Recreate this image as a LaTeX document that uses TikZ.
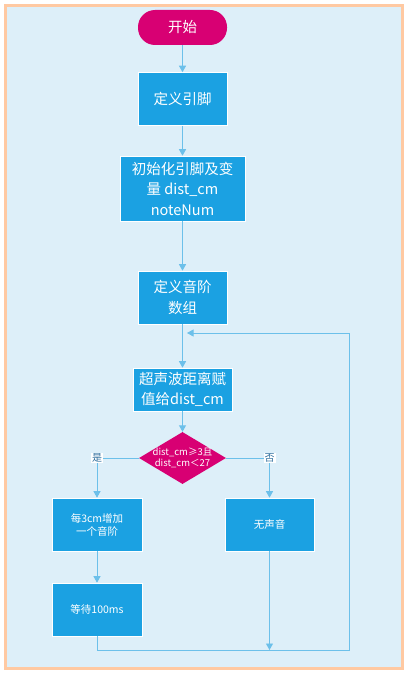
\documentclass[tikz,border=0pt]{standalone}
\usepackage{fontspec}
\setmainfont{Noto Sans CJK SC}
\usetikzlibrary{shapes.geometric,arrows.meta}

\definecolor{boxblue}{HTML}{1BA1E2}
\definecolor{lineblue}{HTML}{6CC0EA}
\definecolor{startred}{HTML}{D80073}
\definecolor{bgblue}{HTML}{DDEFF9}
\definecolor{frameorange}{HTML}{FFC9A2}
\definecolor{labelblue}{HTML}{2E6E9E}

\begin{document}
\begin{tikzpicture}[
  x=1pt, y=-1pt,
  stepbox/.style={rectangle, fill=boxblue, draw=white, line width=0.6pt,
    text=white, align=center, inner sep=2pt},
  bigtext/.style={font=\fontsize{14.5}{20.5}\selectfont},
  smalltext/.style={font=\fontsize{10.5}{13}\selectfont},
  flow/.style={draw=lineblue, line width=0.9pt,
    -{Triangle[width=7pt,length=6.5pt]}},
  plainline/.style={draw=lineblue, line width=0.9pt},
  yesno/.style={fill=white, text=labelblue, inner sep=1pt,
    font=\fontsize{10}{11}\selectfont}
]

% frame and background
\useasboundingbox (0,0) rectangle (408,674);
\draw [frameorange, line width=3pt, fill=bgblue] (5.5,5.5) rectangle (402.5,668.5);

% nodes
\node [stepbox, bigtext, fill=startred, draw=none, rounded corners=17pt,
  minimum width=89pt, minimum height=35pt] (start) at (182.5,27.5) {开始};
\node [stepbox, bigtext, minimum width=89pt, minimum height=53pt]
  (pins) at (182.5,99) {定义引脚};
\node [stepbox, bigtext, minimum width=125pt, minimum height=65pt]
  (init) at (182.5,188.5) {初始化引脚及变\\量 dist\_cm\\noteNum};
\node [stepbox, bigtext, minimum width=89pt, minimum height=53pt]
  (scale) at (182.5,297.5) {定义音阶\\数组};
\node [stepbox, bigtext, minimum width=99pt, minimum height=43pt]
  (dist) at (182.5,389.5) {超声波距离赋\\值给dist\_cm};
\node [diamond, fill=startred, text=white, aspect=1.67, inner sep=-9pt,
  minimum width=87pt, minimum height=52pt, align=center,
  font=\fontsize{9.5}{10.5}\selectfont] (cond) at (182.5,458)
  {dist\_cm≥3且\\dist\_cm＜27};
\node [stepbox, smalltext, minimum width=90pt, minimum height=53pt]
  (step) at (97,524.5) {每3cm增加\\一个音阶};
\node [stepbox, smalltext, minimum width=89pt, minimum height=53pt]
  (mute) at (269.5,524.5) {无声音};
\node [stepbox, smalltext, minimum width=90pt, minimum height=53pt]
  (wait) at (97,609.5) {等待100ms};

\coordinate (yescorner) at (97,458);
\coordinate (nocorner) at (269.5,458);
\coordinate (joinmute) at (269.5,650);
\coordinate (loopright) at (349,650);
\coordinate (looptop) at (349,333);
\coordinate (loopend) at (187,333);

% connectors
\draw [flow] (start) -- (pins);
\draw [flow] (pins) -- (init);
\draw [flow] (init) -- (scale);
\draw [flow] (scale) -- (dist);
\draw [flow] (dist) -- (cond);

\draw [plainline] (cond.west) -- (yescorner);
\draw [flow] (yescorner) -- (step);
\draw [plainline] (cond.east) -- (nocorner);
\draw [flow] (nocorner) -- (mute);
\node [yesno] (yes) at (yescorner) {是};
\node [yesno] (no) at (nocorner) {否};

\draw [flow] (step) -- (wait);
\draw [flow] (mute) -- (joinmute);
\draw [flow] (wait.south) |- (loopright) -- (looptop) -- (loopend);

\end{tikzpicture}
\end{document}
